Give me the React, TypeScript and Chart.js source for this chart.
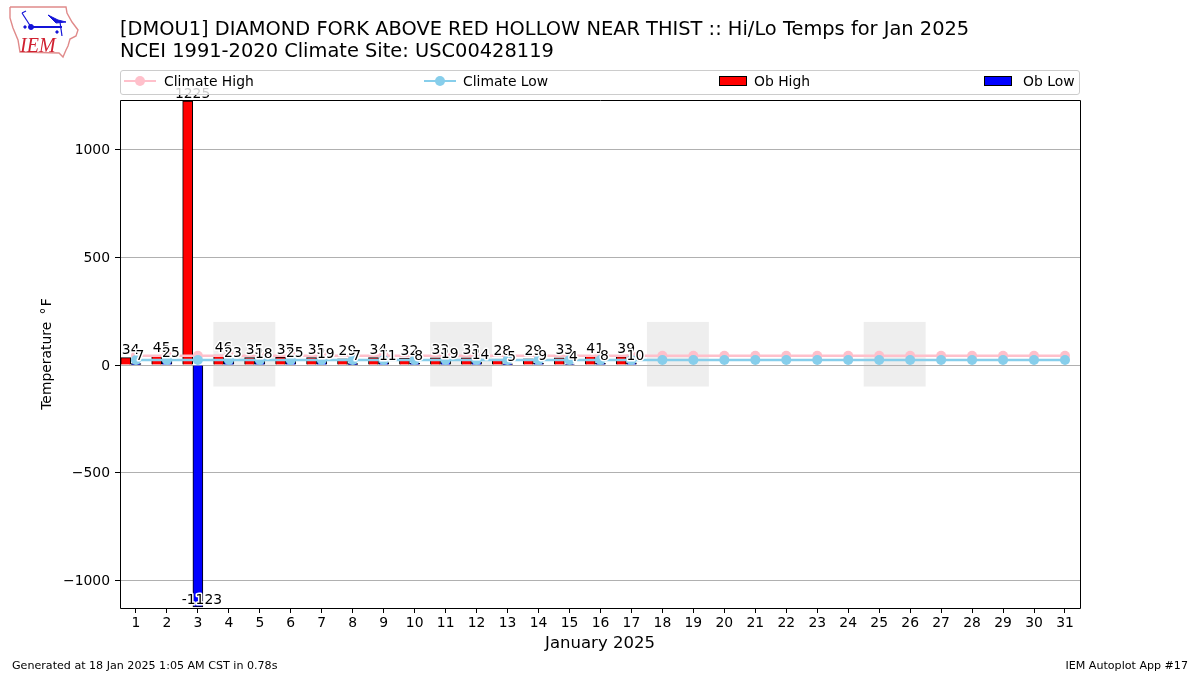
import React, { useEffect, useRef } from "react";
import { Chart, registerables } from "chart.js";

Chart.register(...registerables);

const days = [1,2,3,4,5,6,7,8,9,10,11,12,13,14,15,16,17,18,19,20,21,22,23,24,25,26,27,28,29,30,31];
const climateHigh = [43,43,43,43,43,43,43,43,43,43,43,43,43,43,43,43,43,43,43,43,43,43,43,43,43,43,43,43,43,43,43];
const climateLow = [23,23,23,23,23,23,23,23,23,23,23,23,23,23,23,23,23,23,23,23,23,23,23,23,23,23,23,23,23,23,23];
const obHigh = [34,45,1225,46,35,37,35,29,34,32,33,33,28,29,33,41,39];
const obLow = [7,25,-1123,23,18,25,19,7,11,8,19,14,5,9,4,8,10];
const weekendStarts = [3.5,10.5,17.5,24.5];
const yTicks = [-1000,-500,0,500,1000];
const titleLines = [
  "[DMOU1] DIAMOND FORK ABOVE RED HOLLOW NEAR THIST :: Hi/Lo Temps for Jan 2025",
  "NCEI 1991-2020 Climate Site: USC00428119",
];
const seriesNames = ["Climate High","Climate Low","Ob High","Ob Low"];
const seriesColors = ["#ffc0cb","#87ceeb","#ff0000","#0000ff"];
const xTitle = "January 2025";
const yTitle = "Temperature \u2009\u00b0\u200aF";
const footLeft = "Generated at 18 Jan 2025 1:05 AM CST in 0.78s";
const footRight = "IEM Autoplot App #17";

const FONT = '"DejaVu Sans", sans-serif';

const decor = {
  id: "decor",
  beforeDraw(chart: any) {
    const { ctx, scales: { x, y } } = chart;
    ctx.save();
    ctx.fillStyle = "#eeeeee";
    for (const s of weekendStarts) {
      const l = x.getPixelForValue(s), r = x.getPixelForValue(s + 2);
      const t = y.getPixelForValue(200), b = y.getPixelForValue(-100);
      ctx.fillRect(l, t, r - l, b - t);
    }
    ctx.restore();
  },
  afterDatasetsDraw(chart: any) {
    const { ctx, scales: { x, y }, chartArea: a } = chart;
    ctx.save();
    ctx.font = `13.9px ${FONT}`;
    ctx.textAlign = "center";
    ctx.textBaseline = "alphabetic";
    ctx.lineJoin = "round";
    const label = (v: number, px: number, py: number) => {
      ctx.lineWidth = 3;
      ctx.strokeStyle = "#ffffff";
      ctx.strokeText(String(v), px, py);
      ctx.fillStyle = "#000000";
      ctx.fillText(String(v), px, py);
    };
    obHigh.forEach((v, i) => label(v, x.getPixelForValue(days[i] - 0.17), y.getPixelForValue(v) - 3.5));
    obLow.forEach((v, i) => label(v, x.getPixelForValue(days[i] + 0.13), y.getPixelForValue(v) - 3));
    ctx.strokeStyle = "#000000";
    ctx.lineWidth = 1;
    ctx.strokeRect(Math.round(a.left) + 0.5, Math.round(a.top) + 0.5, Math.round(a.width), Math.round(a.height));
    ctx.restore();
  },
};

const abs = (left: number, top: number, extra: any = {}) => ({
  position: "absolute" as const, left, top, font: `13.9px ${FONT}`, whiteSpace: "nowrap" as const, lineHeight: "16px", color: "#000", ...extra,
});

function LineSample({ left, color }: { left: number; color: string }) {
  return (
    <svg style={{ position: "absolute", left, top: 3, overflow: "visible" }} width={32} height={16}>
      <line x1={0} x2={32} y1={7} y2={7} stroke={color} strokeWidth={2} />
      <circle cx={16} cy={7} r={5} fill={color} />
    </svg>
  );
}

function Legend() {
  const textX = [43, 342, 633, 902];
  return (
    <div style={{ position: "absolute", left: 120, top: 70, width: 960, height: 25, boxSizing: "border-box", border: "1px solid #cccccc", borderRadius: 3, background: "rgba(255,255,255,0.8)" }}>
      <LineSample left={3} color={seriesColors[0]} />
      <LineSample left={302.5} color={seriesColors[1]} />
      <div style={{ position: "absolute", left: 597.5, top: 5, width: 28, height: 10, boxSizing: "border-box", background: seriesColors[2], border: "1px solid #000" }} />
      <div style={{ position: "absolute", left: 862.5, top: 5, width: 28, height: 10, boxSizing: "border-box", background: seriesColors[3], border: "1px solid #000" }} />
      {seriesNames.map((n, i) => <span key={n} style={abs(textX[i], 2)}>{n}</span>)}
    </div>
  );
}

function Logo() {
  return (
    <svg style={{ position: "absolute", left: 0, top: 0 }} width={90} height={62}>
      <polyline fill="none" stroke="#e08a8a" strokeWidth={1.4}
        points="10,7 66,7 67,13 72,22 78,30 76,36 70,39 68,46 66,50 63,57 59,53 20,52 18,40 13,28 10,18 10,7" />
      <g stroke="#1414d8" fill="#1414d8">
        <line x1={31} y1={27} x2={62} y2={27} strokeWidth={2} />
        <circle cx={31} cy={27} r={2.5} />
        <line x1={31} y1={27} x2={22} y2={13} strokeWidth={1.2} />
        <line x1={22} y1={13} x2={26} y2={11} strokeWidth={1.2} />
        <polygon points="48,15 58,20 66,22 56,23" />
        <line x1={60} y1={22} x2={62} y2={36} strokeWidth={1.2} />
        <circle cx={25} cy={27} r={1.2} />
        <circle cx={57} cy={32} r={1.2} />
      </g>
      <text x={20} y={52} fill="#d02030" style={{ font: 'italic 20px "Liberation Serif", serif' }}>IEM</text>
    </svg>
  );
}

export default function App() {
  const ref = useRef<HTMLCanvasElement>(null);
  useEffect(() => {
    const chart = new Chart(ref.current as HTMLCanvasElement, {
      type: "bar",
      data: {
        datasets: [
          { type: "line", label: seriesNames[0], data: days.map((d, i) => ({ x: d, y: climateHigh[i] })), borderColor: seriesColors[0], backgroundColor: seriesColors[0], borderWidth: 2.6, pointRadius: 5, pointBorderWidth: 0, order: 2 },
          { type: "line", label: seriesNames[1], data: days.map((d, i) => ({ x: d, y: climateLow[i] })), borderColor: seriesColors[1], backgroundColor: seriesColors[1], borderWidth: 2.6, pointRadius: 5, pointBorderWidth: 0, order: 1 },
          { type: "bar", label: seriesNames[2], data: obHigh.map((v, i) => ({ x: days[i] - 0.33, y: v })), backgroundColor: seriesColors[2], borderColor: "#000", borderWidth: 1, barThickness: 10, grouped: false, order: 4 },
          { type: "bar", label: seriesNames[3], data: obLow.map((v, i) => ({ x: days[i], y: v })), backgroundColor: seriesColors[3], borderColor: "#000", borderWidth: 1, barThickness: 10, grouped: false, order: 3 },
        ] as any,
      },
      options: {
        animation: false,
        responsive: false,
        layout: { padding: { top: 100, right: 120, bottom: 0, left: 0 } },
        plugins: { legend: { display: false }, title: { display: false }, tooltip: { enabled: false } },
        scales: {
          x: {
            type: "linear", min: 0.485, max: 31.485, offset: false,
            afterFit: (s: any) => { s.height = 67; },
            afterBuildTicks: (s: any) => { s.ticks = days.map((d) => ({ value: d })); },
            grid: { offset: false, drawOnChartArea: false, drawTicks: true, tickLength: 5, tickColor: "#000", tickWidth: 1 },
            border: { display: false },
            ticks: { color: "#000", font: { family: FONT, size: 13.9 }, padding: 2, maxRotation: 0, autoSkip: false, callback: (v: any) => String(v) },
            title: { display: true, text: xTitle, color: "#000", font: { family: FONT, size: 16.5 }, padding: { top: 3, bottom: 21 } },
          },
          y: {
            min: -1127.6, max: 1229.7,
            afterFit: (s: any) => { s.width = 120; },
            afterBuildTicks: (s: any) => { s.ticks = yTicks.map((v) => ({ value: v })); },
            grid: { color: "#b0b0b0", lineWidth: 1, tickColor: "#000", tickLength: 5 },
            border: { display: false },
            ticks: { color: "#000", font: { family: FONT, size: 13.9 }, padding: 5, labelOffset: 1, callback: (v: any) => String(v).replace("-", "\u2212") },
            title: { display: true, text: yTitle, color: "#000", font: { family: FONT, size: 13.9 }, padding: { top: 39, bottom: 0 } },
          },
        },
      } as any,
      plugins: [decor],
    });
    return () => chart.destroy();
  }, []);
  return (
    <div style={{ position: "absolute", left: 0, top: 0, width: 1200, height: 675, background: "#fff", overflow: "hidden" }}>
      <canvas ref={ref} width={1200} height={675} style={{ position: "absolute", left: 0, top: 0 }} />
      <Logo />
      {titleLines.map((t, i) => (
        <div key={t} style={abs(120, 18 + i * 21.5, { font: `19.42px ${FONT}`, lineHeight: "22px" })}>{t}</div>
      ))}
      <Legend />
      <div style={abs(12, 659, { font: `11.1px ${FONT}`, lineHeight: "14px" })}>{footLeft}</div>
      <div style={{ ...abs(0, 659, { font: `11.1px ${FONT}`, lineHeight: "14px" }), left: "auto", right: 12 }}>{footRight}</div>
    </div>
  );
}
